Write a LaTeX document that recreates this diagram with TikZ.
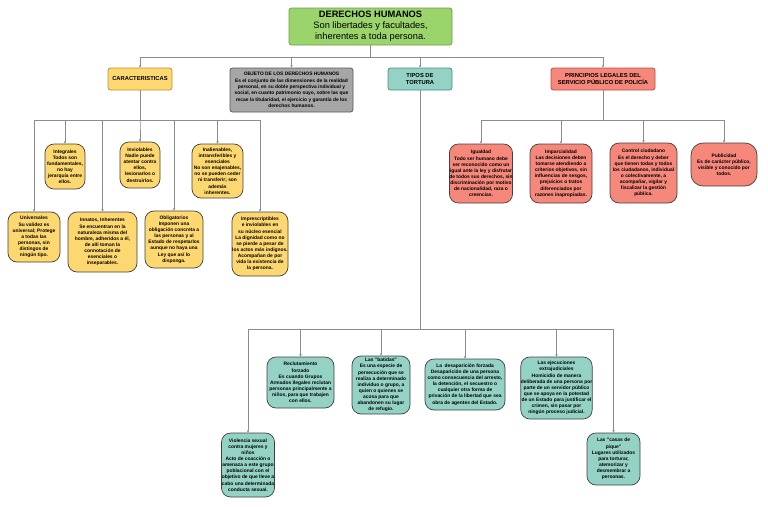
\documentclass[tikz,border=0pt]{standalone}
\usepackage{fontspec}
\setmainfont{Liberation Sans}
\usetikzlibrary{arrows.meta}
\definecolor{cgreen}{HTML}{9CD46C}
\definecolor{cgreenb}{HTML}{6E9E48}
\definecolor{cyel}{HTML}{FDD870}
\definecolor{cyelb}{HTML}{B8952E}
\definecolor{cgray}{HTML}{A6A6A6}
\definecolor{cgrayb}{HTML}{595959}
\definecolor{cteal}{HTML}{93D2C4}
\definecolor{ctealb}{HTML}{4C8F80}
\definecolor{csal}{HTML}{F5877B}
\definecolor{csalb}{HTML}{B85046}
\definecolor{cline}{HTML}{8C8C8C}
\tikzset{
  x=1pt, y=-1pt,
  mainbox/.style={draw, line width=0.8pt, rounded corners=2.5pt, inner sep=0pt, align=center,
    font=\fontsize{5.8}{6.8}\selectfont\bfseries},
  kid/.style={draw=black!75, line width=0.7pt, rounded corners=9pt, inner sep=0pt, align=center,
    font=\fontsize{4.9}{6.1}\selectfont\bfseries},
  ykid/.style={kid, fill=cyel},
  rkid/.style={kid, fill=csal},
  tkid/.style={kid, fill=cteal},
  conn/.style={draw=cline, line width=0.55pt, -{Stealth[length=2.6pt,width=2.4pt]}},
}
\begin{document}
\begin{tikzpicture}
\useasboundingbox (0,0) rectangle (768,506);
% main
\node[mainbox, fill=cgreen, draw=cgreenb, minimum width=163pt, minimum height=37pt, font=\fontsize{9.3}{11}\selectfont] (title) at (370.5,26.5)
  {\textbf{DERECHOS HUMANOS}\\Son libertades y facultades,\\inherentes a toda persona.};
\node[mainbox, fill=cyel, draw=cyelb, minimum width=64pt, minimum height=22pt] (car) at (140,79) {CARACTERISTICAS};
\node[mainbox, fill=cgray, draw=cgrayb, minimum width=123pt, minimum height=44pt, font=\fontsize{4.9}{6.3}\selectfont\bfseries] (obj) at (291.5,90)
  {OBJETO DE LOS DERECHOS HUMANOS\\Es el conjunto de las dimensiones de la realidad\\personal, en su doble perspectiva individual y\\social, en cuanto patrimonio suyo, sobre las que\\recae la titularidad, el ejercicio y garantía de los\\derechos humanos.};
\node[mainbox, fill=cteal, draw=ctealb, minimum width=64pt, minimum height=22pt] (tip) at (420,79) {TIPOS DE\\TORTURA};
\node[mainbox, fill=csal, draw=csalb, minimum width=104pt, minimum height=22pt] (pri) at (603,79) {PRINCIPIOS LEGALES DEL\\SERVICIO PÚBLICO DE POLICÍA};
% yellow children
\node[ykid, minimum width=40pt, minimum height=45pt] (integ) at (65,166.5)
  {Integrales\\Todos son\\fundamentales,\\no hay\\jerarquía entre\\ellos.};
\node[ykid, minimum width=40pt, minimum height=46pt] (inv) at (140,165)
  {Inviolables\\Nadie puede\\atentar contra\\ellos,\\lesionarlos o\\destruirlos.};
\node[ykid, minimum width=51pt, minimum height=54pt] (inal) at (217.5,171)
  {Inalienables,\\intransferibles y\\esenciales\\No son enajenables,\\no se pueden ceder\\ni transferir; son\\además\\inherentes.};
\node[ykid, minimum width=52pt, minimum height=50pt] (univ) at (34,237)
  {Universales\\Su validez es\\universal; Protege\\a todas las\\personas, sin\\distingos de\\ningún tipo.};
\node[ykid, minimum width=69pt, minimum height=60pt] (inna) at (102.5,242)
  {Innatos, Inherentes\\Se encuentran en la\\naturaleza misma del\\hombre, adheridos a él,\\de allí toman la\\connotación de\\esenciales o\\inseparables.};
\node[ykid, minimum width=58pt, minimum height=57pt] (obli) at (174,239.5)
  {Obligatorios\\Imponen una\\obligación concreta a\\las personas y al\\Estado de respetarlos\\aunque no haya una\\Ley que así lo\\disponga.};
\node[ykid, minimum width=56pt, minimum height=64pt] (impr) at (260,244)
  {Imprescriptibles\\e inviolables en\\su núcleo esencial\\La dignidad como no\\se pierde a pesar de\\los actos más indignos.\\Acompañan de por\\vida la existencia de\\la persona.};
% red children
\node[rkid, minimum width=62pt, minimum height=59pt] (igu) at (481,173.5)
  {Igualdad\\Todo ser humano debe\\ser reconocido como un\\igual ante la ley y disfrutar\\de todos sus derechos, sin\\discriminación por motivo\\de nacionalidad, raza o\\creencias.};
\node[rkid, minimum width=62pt, minimum height=59pt] (imp) at (561,173.5)
  {Imparcialidad\\Las decisiones deben\\tomarse atendiendo a\\criterios objetivos, sin\\influencias de sesgos,\\prejuicios o tratos\\diferenciados por\\razones inapropiadas.};
\node[rkid, minimum width=67pt, minimum height=60pt] (con) at (643.5,173)
  {Control ciudadano\\Es el derecho y deber\\que tienen todas y todos\\los ciudadanos, individual\\o colectivamente, a\\acompañar, vigilar y\\fiscalizar la gestión\\pública.};
\node[rkid, minimum width=66pt, minimum height=43pt, rounded corners=12pt] (pub) at (724,164.5)
  {Publicidad\\Es de carácter público,\\visible y conocido por\\todos.};
% teal children
\node[tkid, minimum width=67pt, minimum height=51pt] (rec) at (300.5,382.5)
  {Reclutamiento\\forzado\\Es cuando Grupos\\Armados Ilegales reclutan\\personas principalmente a\\niños, para que trabajen\\con ellos.};
\node[tkid, minimum width=58pt, minimum height=58pt] (bat) at (381,385)
  {Las "batidas"\\Es una especie de\\persecución que se\\realiza a determinado\\individuo o grupo, a\\quien o quienes se\\acosa para que\\abandonen su lugar\\de refugio.};
\node[tkid, minimum width=80pt, minimum height=51pt] (des) at (465,384.5)
  {La~ desaparición forzada\\Desaparición de una persona\\como consecuencia del arresto,\\la detención, el secuestro o\\cualquier otra forma de\\privación de la libertad que sea\\obra de agentes del Estado.};
\node[tkid, minimum width=67pt, minimum height=62pt] (eje) at (556.5,388)
  {Las ejecuciones\\extrajudiciales\\Homicidio de manera\\deliberada de una persona por\\parte de un servidor público\\que se apoya en la potestad\\de un Estado para justificar el\\crimen, sin pasar por\\ningún proceso judicial.};
\node[tkid, minimum width=53pt, minimum height=64pt] (vio) at (248,465)
  {Violencia sexual\\contra mujeres y\\niños\\Acto de coacción o\\amenaza a este grupo\\poblacional con el\\objetivo de que lleve a\\cabo una determinada\\conducta sexual.};
\node[tkid, minimum width=53pt, minimum height=52pt] (cas) at (613.5,459)
  {Las "casas de\\pique"\\Lugares utilizados\\para torturar,\\atemorizar y\\desmembrar a\\personas.};
% bus levels
\coordinate (b0) at (0,57);
\coordinate (by) at (0,120);
\coordinate (br) at (0,120);
\coordinate (bt) at (0,329.5);
% connectors
\foreach \c in {car,obj,tip,pri}
  \draw[conn] (title.south) -- (title.south |- b0) -| (\c.north);
\foreach \c in {univ,integ,inna,inv,obli,inal,impr}
  \draw[conn] (car.south) -- (car.south |- by) -| (\c.north);
\foreach \c in {igu,imp,con,pub}
  \draw[conn] (pri.south) -- (pri.south |- br) -| (\c.north);
\foreach \c in {vio,rec,bat,des,eje,cas}
  \draw[conn] (tip.south) -- (tip.south |- bt) -| (\c.north);
\end{tikzpicture}
\end{document}
